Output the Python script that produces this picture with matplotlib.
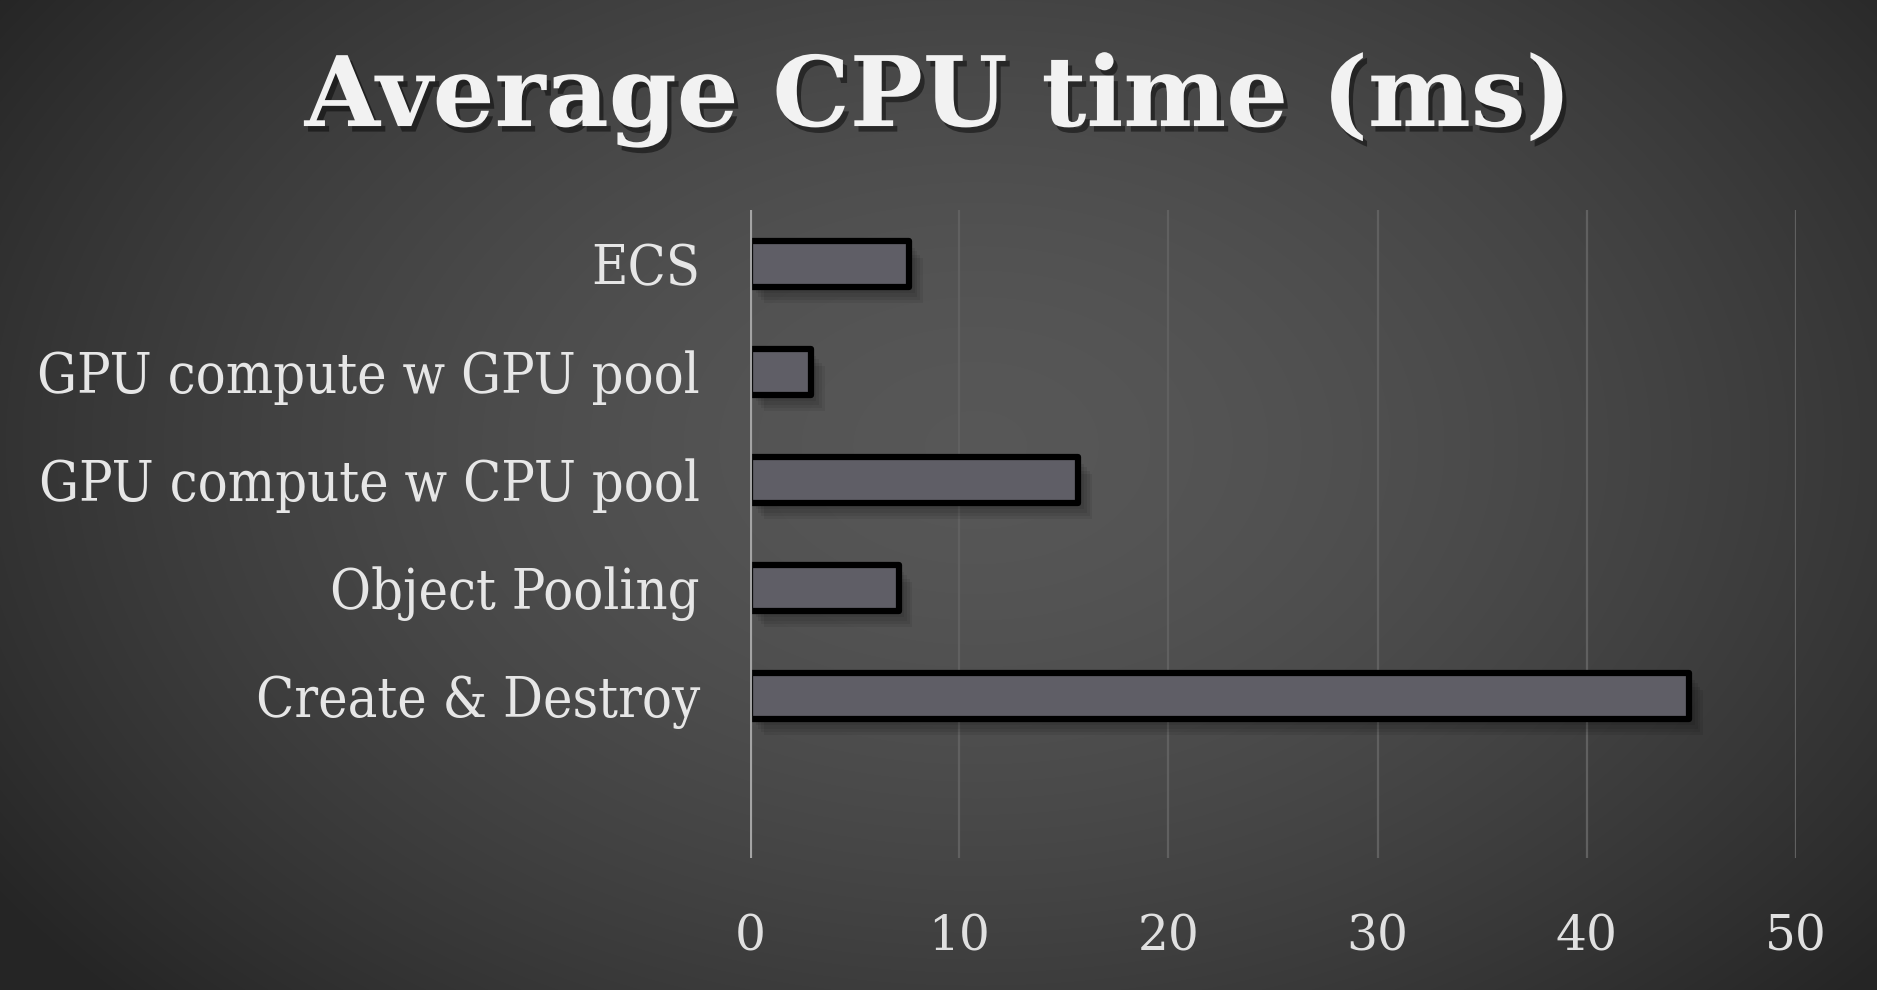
import numpy as np
import matplotlib
matplotlib.use("Agg")
import matplotlib.pyplot as plt
import matplotlib.patheffects as pe

# ---------- data ----------
categories = ["ECS", "GPU compute w GPU pool", "GPU compute w CPU pool",
              "Object Pooling", "Create & Destroy"]
cpu_ms = [7.6, 2.9, 15.7, 7.1, 44.9]
x_ticks = [0, 10, 20, 30, 40, 50]

W, H = 1877, 990
fig = plt.figure(figsize=(W / 100, H / 100), dpi=100)

# ---------- radial gradient background ----------
bg = fig.add_axes([0, 0, 1, 1])
yy, xx = np.mgrid[0:H, 0:W]
r = np.sqrt(((xx - W * 0.52) / (W * 0.62)) ** 2 + ((yy - H * 0.45) / (H * 0.80)) ** 2)
shade = np.clip(0.345 - 0.19 * r ** 1.6, 0.15, 1)
bg.imshow(shade, cmap="gray", vmin=0, vmax=1, aspect="auto", extent=[0, 1, 0, 1])
bg.set_axis_off()

# ---------- bar chart ----------
ax = fig.add_axes([750 / W, 1 - 858 / H, 1046 / W, 648 / H])
ax.patch.set_alpha(0)

pos = np.arange(len(categories))
bars = ax.barh(pos, cpu_ms, height=0.42, color="#5f5e66", edgecolor="black",
               linewidth=4.5, joinstyle="round", zorder=3)
# soft drop shadow built from a few faint offset copies
soft = [pe.SimplePatchShadow(offset=(o, -o * 1.2), shadow_rgbFace="black", alpha=0.07)
        for o in (2, 4, 6, 8, 10)]
for b in bars:
    b.set_path_effects(soft + [pe.Normal()])

ax.set_xlim(0, 50)
ax.set_ylim(len(categories) + 0.5, -0.5)
ax.set_xticks(x_ticks)
ax.set_yticks(pos)
ax.set_yticklabels(categories)

for g in x_ticks[1:]:
    ax.axvline(g, color="#606060", linewidth=1.6, zorder=1)
ax.axvline(0, color="#a4a4a4", linewidth=3, zorder=4)

for s in ax.spines.values():
    s.set_visible(False)
ax.tick_params(length=0)
ax.tick_params(axis="y", pad=36)
ax.tick_params(axis="x", pad=40)
for lab in ax.get_yticklabels():
    lab.set_fontfamily("DejaVu Serif")
    lab.set_fontstretch("condensed")
    lab.set_fontsize(40)
    lab.set_color("#e6e6e6")
for lab in ax.get_xticklabels():
    lab.set_fontfamily("DejaVu Serif")
    lab.set_fontsize(35)
    lab.set_color("#e0e0e0")

# ---------- title ----------
title = fig.text(0.5, 1 - 100 / H, "Average CPU time (ms)",
                 ha="center", va="center", fontsize=70, fontweight="bold",
                 family=["DejaVu Serif"], color="#f2f2f2")
title.set_path_effects([pe.withSimplePatchShadow(offset=(3, -4), shadow_rgbFace="black", alpha=0.45)])

fig.savefig("out.png", dpi=100)
